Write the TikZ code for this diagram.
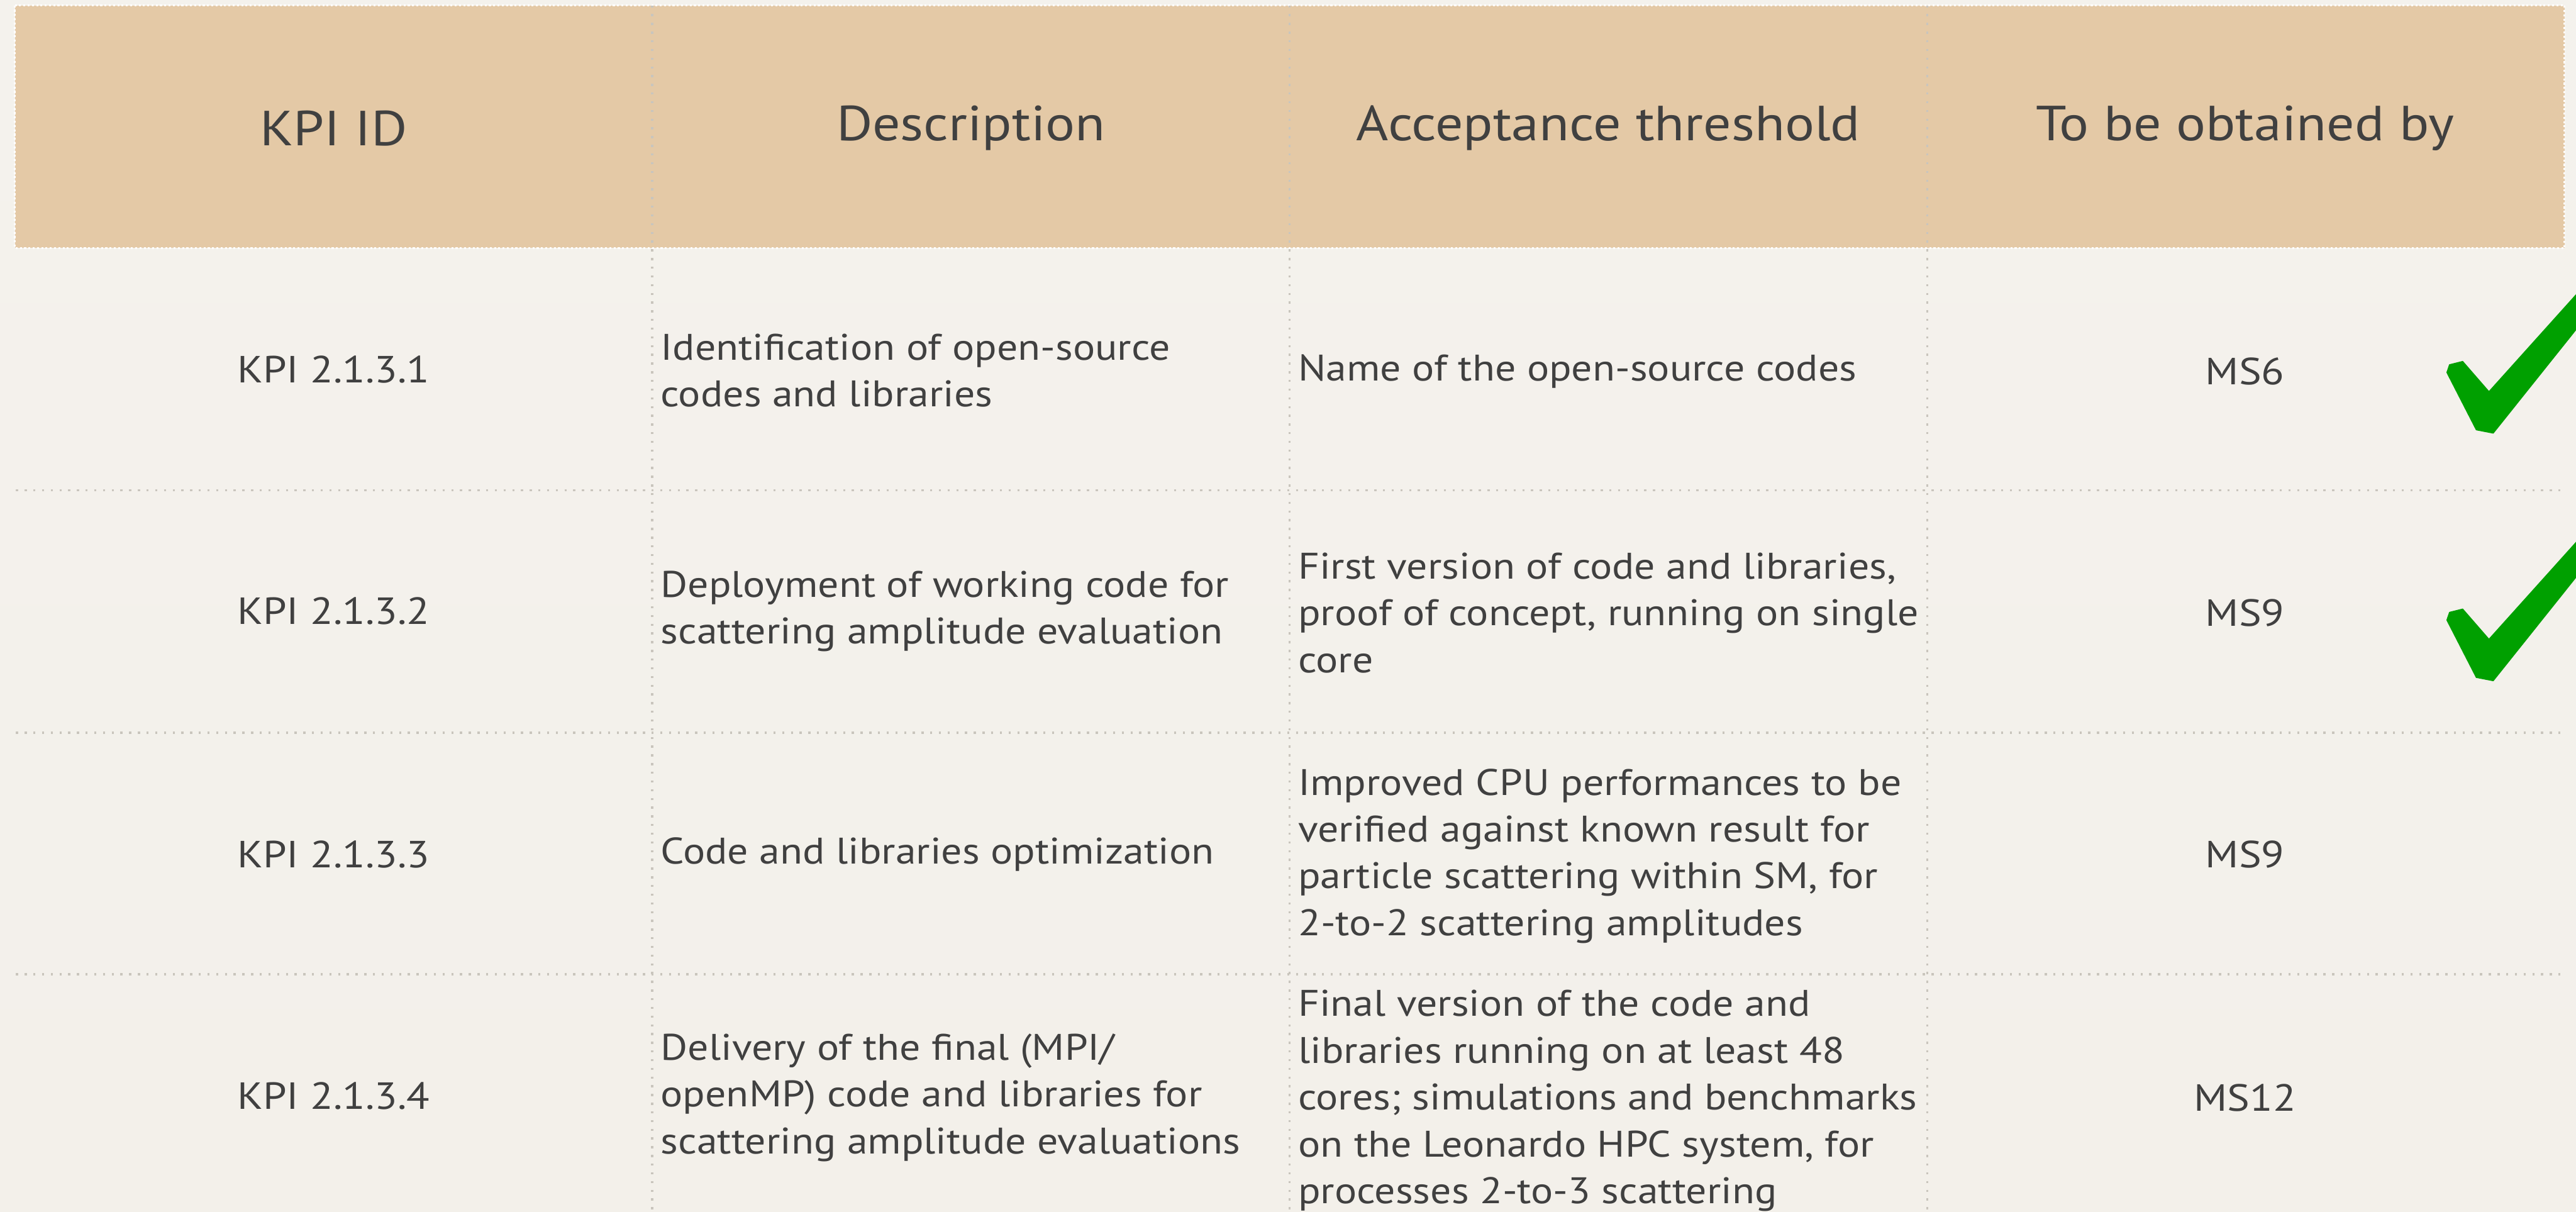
\documentclass[tikz,border=0pt]{standalone}
\usepackage{fontspec}
\setmainfont[FakeStretch=1.12]{PT Sans}
\definecolor{hdr}{HTML}{E4C9A6}
\definecolor{txt}{HTML}{404040}
\definecolor{gridc}{HTML}{C9C5BD}
\definecolor{ok}{HTML}{00A000}
\definecolor{bgtop}{HTML}{F4F2ED}
\definecolor{bgmid}{HTML}{E7E4DE}
\definecolor{bgbot}{HTML}{F3F0EA}
\begin{document}
\begin{tikzpicture}[x=1pt,y=-1pt,
  gridline/.style={gridc, line width=1.3pt, dash pattern=on 1.3pt off 4pt},
  hdrborder/.style={white, line width=1.2pt, dash pattern=on 1.2pt off 1.4pt},
  hdrtext/.style={txt, font=\fontsize{30}{36}\selectfont, inner sep=0pt},
  celltext/.style={txt, font=\fontsize{22.5}{28.5}\selectfont, inner sep=0pt, align=left, anchor=west},
  idtext/.style={txt, font=\fontsize{23}{28.5}\selectfont, inner sep=0pt},
  tickmark/.style={fill=ok, draw=ok, line width=0.6pt, line join=round}]
\useasboundingbox (0,0) rectangle (1568,737.3);
\clip (0,0) rectangle (1568,737.3);
\shade[top color=bgtop, middle color=bgmid, bottom color=bgbot] (0,0) rectangle (1568,737.3);
% header
\fill[hdr] (9,3.3) rectangle (1561,151);
\draw[hdrborder] (9,3.3) rectangle (1561,151);
% grid
\foreach \x in {397,785,1173} \draw[gridline] (\x,3.3) -- (\x,740);
\foreach \y in {298.5,446,593} \draw[gridline] (9.7,\y) -- (1560,\y);
% header texts
\node[hdrtext] (h1) at (203,78) {KPI ID};
\node[hdrtext] (h2) at (591,78) {Description};
\node[hdrtext] (h3) at (979,78) {Acceptance threshold};
\node[hdrtext] (h4) at (1366.5,78) {To be obtained by};
% column 1
\node[idtext] (k1) at (203,225) {KPI 2.1.3.1};
\node[idtext] (k2) at (203,372) {KPI 2.1.3.2};
\node[idtext] (k3) at (203,520) {KPI 2.1.3.3};
\node[idtext] (k4) at (203,667) {KPI 2.1.3.4};
% column 2
\node[celltext] (d1) at (402,225.5) {Identification of open-source\\codes and libraries};
\node[celltext] (d2) at (402,372) {Deployment of working code for\\scattering amplitude evaluation};
\node[celltext] (d3) at (402,520) {Code and libraries optimization};
\node[celltext] (d4) at (402,668) {Delivery of the final (MPI/\\openMP) code and libraries for\\scattering amplitude evaluations};
% column 3
\node[celltext] (t1) at (790,226) {Name of the open-source codes};
\node[celltext] (t2) at (790,373) {First version of code and libraries,\\proof of concept, running on single\\core};
\node[celltext] (t3) at (790,521) {Improved CPU performances to be\\verified against known result for\\particle scattering within SM, for\\2-to-2 scattering amplitudes};
\node[celltext] (t4) at (790,670) {Final version of the code and\\libraries running on at least 48\\cores; simulations and benchmarks\\on the Leonardo HPC system, for\\processes 2-to-3 scattering};
% column 4
\node[idtext] (m1) at (1366.5,226) {MS6};
\node[idtext] (m2) at (1366.5,373) {MS9};
\node[idtext] (m3) at (1366.5,520) {MS9};
\node[idtext] (m4) at (1366.5,668) {MS12};
% check marks
\foreach \dy in {0,150.7}
  \filldraw[tickmark, shift={(0,\dy)}] (1489.4,226.7) -- (1491,222) -- (1499,220) -- (1515,238.4) -- (1590,155) -- (1590,173) -- (1517.6,263.6) -- (1507.3,261.6) -- cycle;
\end{tikzpicture}
\end{document}
